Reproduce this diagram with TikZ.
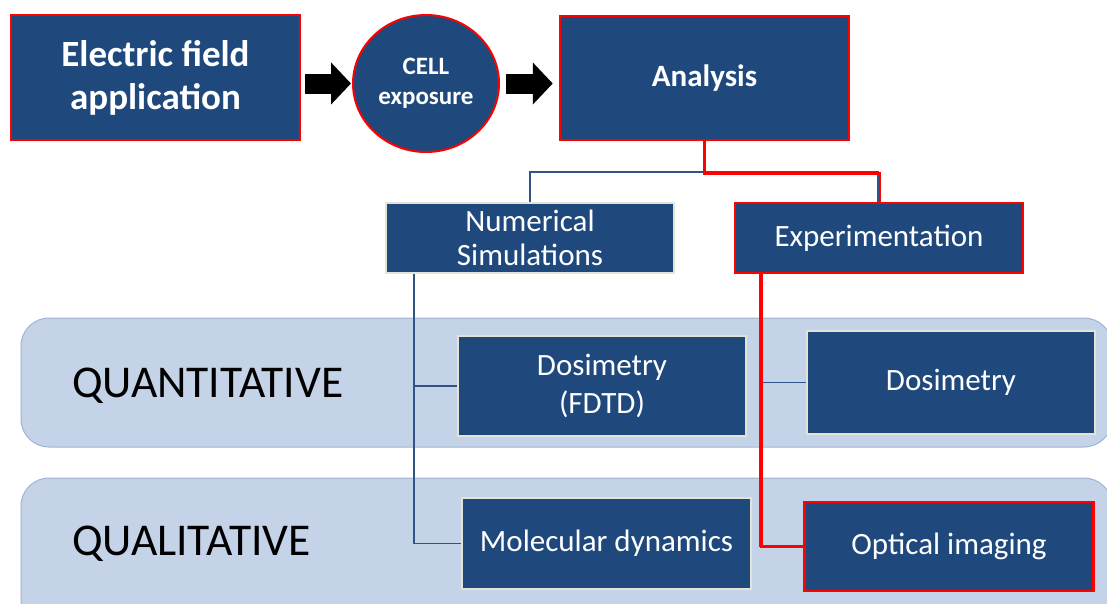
\documentclass[tikz,border=0pt]{standalone}
\usepackage{fontspec}
\setmainfont{Carlito}
\usetikzlibrary{arrows.meta,shapes.geometric,calc}
\definecolor{dblue}{RGB}{31,73,125}
\definecolor{bandfill}{RGB}{197,211,232}
\definecolor{banddraw}{RGB}{158,181,212}
\definecolor{lightedge}{RGB}{226,228,216}
\definecolor{conblue}{RGB}{48,84,136}
\definecolor{hred}{RGB}{255,0,0}
\tikzset{
  bluebox/.style={draw=lightedge, line width=1.5pt, fill=dblue, text=white, inner sep=0pt, align=center,
    font=\fontsize{31}{34}\selectfont},
  redbox/.style={bluebox, draw=hred, line width=2.5pt},
  topbox/.style={redbox, font=\bfseries\fontsize{37}{43}\selectfont},
  band/.style={draw=banddraw, line width=1pt, fill=bandfill, rounded corners=28pt},
  bandtext/.style={anchor=base west, inner sep=0pt, font=\fontsize{45.5}{50}\selectfont},
  conn/.style={draw=conblue, line width=1.6pt},
  redconn/.style={draw=hred, line width=2.6pt},
  blockarrow/.style={draw=black, line width=20pt, -{Triangle[length=20pt,width=41pt]}},
}
\begin{document}
\begin{tikzpicture}[x=1pt,y=-1pt]
\useasboundingbox (0,0) rectangle (1107,603);
\clip (0,0) rectangle (1107,603);
\fill[white] (0,0) rectangle (1107,603);
% bands
\draw[band] (21,318) rectangle (1112,447);
\draw[band] (21,478) rectangle (1112,650);
\node[bandtext] (quant) at (72,397) {QUANTITATIVE};
\node[bandtext] (qual) at (72,555) {QUALITATIVE};
% top row
\node[topbox, minimum width=289pt, minimum height=125pt] (app) at (155.5,77.5) {Electric field\\application};
\node[ellipse, draw=hred, line width=2pt, fill=dblue, text=white, inner sep=0pt, align=center,
  minimum width=146pt, minimum height=137pt, font=\bfseries\fontsize{25}{30}\selectfont] (cell) at (426,83.5) {CELL\\exposure};
\node[redbox, font=\bfseries\fontsize{31}{34}\selectfont, minimum width=289pt, minimum height=124pt] (ana) at (704.5,78) {Analysis};
\draw[blockarrow] ([xshift=4pt]app.east |- cell.west) -- ([xshift=-1pt]cell.west);
\draw[blockarrow] ([xshift=6pt]cell.east) -- ([xshift=-6pt]ana.west |- cell.east);
% second row
\node[bluebox, minimum width=288pt, minimum height=70pt] (num) at (530,238) {Numerical\\Simulations};
\node[redbox, minimum width=288pt, minimum height=70pt] (exp) at (879,238) {Experimentation};
% leaves
\node[bluebox, font=\fontsize{31}{38}\selectfont, minimum width=288pt, minimum height=100pt] (dos1) at (602,386) {Dosimetry\\(FDTD)};
\node[bluebox, minimum width=288pt, minimum height=103pt] (dos2) at (951,382.5) {Dosimetry};
\node[bluebox, minimum width=289pt, minimum height=91pt] (mol) at (606.5,543.5) {Molecular dynamics};
\node[redbox, minimum width=289pt, minimum height=89pt] (opt) at (949,546.5) {Optical imaging};
% connectors: analysis
\coordinate (split) at ($(ana.south)+(0,31)$);
\draw[conn] (ana.south) -- (split) -| (num.north);
\draw[conn] (split) -| ([xshift=-1pt]exp.north);
\draw[redconn] (ana.south) -- ([yshift=-1pt]split) -| ([xshift=1pt]exp.north);
% connectors: numerical
\coordinate (numbus) at ($(num.south west)+(29,0)$);
\draw[conn] (numbus) |- (dos1.west);
\draw[conn] (numbus) |- (mol.west);
% connectors: experimentation
\coordinate (expbus) at ($(exp.south west)+(28,0)$);
\draw[conn] ([xshift=-1.5pt]expbus) |- (dos2.west);
\draw[conn] ([xshift=-1.5pt]expbus) |- (opt.west);
\draw[redconn] (expbus) |- (opt.west);
\end{tikzpicture}
\end{document}
